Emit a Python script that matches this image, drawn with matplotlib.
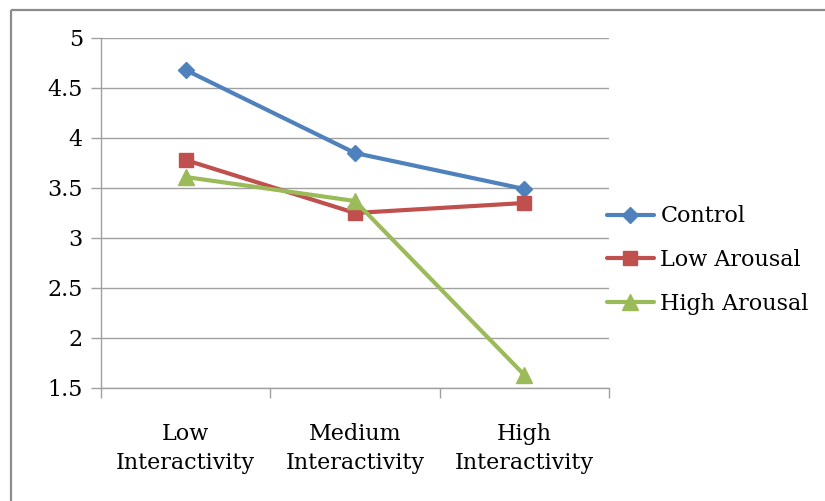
import matplotlib
matplotlib.use("Agg")
import matplotlib.pyplot as plt
from matplotlib.lines import Line2D

categories = ["Low\nInteractivity", "Medium\nInteractivity", "High\nInteractivity"]
series_names = ["Control", "Low Arousal", "High Arousal"]
control = [4.68, 3.85, 3.49]
low_arousal = [3.78, 3.25, 3.35]
high_arousal = [3.61, 3.37, 1.63]
y_ticks = [1.5, 2, 2.5, 3, 3.5, 4, 4.5, 5]
y_tick_labels = ["1.5", "2", "2.5", "3", "3.5", "4", "4.5", "5"]

colors = ["#4F81BD", "#C0504D", "#9BBB59"]
markers = ["D", "s", "^"]
msizes = [8.5, 10, 11]
grid_color = "#A0A0A0"

plt.rcParams["font.family"] = ["DejaVu Serif"]

W, H = 825, 501
fig = plt.figure(figsize=(W / 100, H / 100), dpi=100)
ax = fig.add_axes([101 / W, 1 - 388 / H, (609 - 101) / W, (388 - 38) / H])

x = list(range(len(categories)))
for vals, name, c, m, ms in zip([control, low_arousal, high_arousal],
                                series_names, colors, markers, msizes):
    ax.plot(x, vals, color=c, lw=3, marker=m, markersize=ms,
            markerfacecolor=c, markeredgecolor=c, label=name,
            solid_capstyle="round", clip_on=False, zorder=3)

ax.set_ylim(1.5, 5)
ax.set_xlim(-0.5, len(categories) - 0.5)
ax.set_yticks(y_ticks)
ax.set_yticklabels(y_tick_labels)
ax.set_xticks(x)
ax.set_xticklabels(categories, linespacing=1.45)
ax.set_xticks([i - 0.5 for i in range(len(categories) + 1)], minor=True)

ax.yaxis.grid(True, color=grid_color, lw=1)
ax.set_axisbelow(True)
for s in ["top", "right"]:
    ax.spines[s].set_visible(False)
for s in ["left", "bottom"]:
    ax.spines[s].set_color(grid_color)
    ax.spines[s].set_linewidth(1)

ax.tick_params(axis="y", length=7, width=1, color=grid_color, pad=6,
               labelsize=16, labelcolor="black")
ax.tick_params(axis="x", which="major", length=0, pad=25,
               labelsize=16, labelcolor="black")
ax.tick_params(axis="x", which="minor", length=7, width=1, color=grid_color)

fig.legend(loc="center left", bbox_to_anchor=(607 / W, 1 - 260 / H),
           frameon=False, fontsize=16, handlelength=2.1, handletextpad=0.3,
           labelspacing=0.97, borderpad=0, borderaxespad=0)

# outer chart frame (top and left edges)
frame_color = "#8C8C8C"
fig.add_artist(Line2D([11 / W, 1.05], [1 - 10 / H, 1 - 10 / H],
                      transform=fig.transFigure, color=frame_color, lw=1.6,
                      solid_capstyle="butt"))
fig.add_artist(Line2D([11 / W, 11 / W], [-0.05, 1 - 10 / H],
                      transform=fig.transFigure, color=frame_color, lw=1.6,
                      solid_capstyle="butt"))

fig.savefig("out.png", dpi=100)
